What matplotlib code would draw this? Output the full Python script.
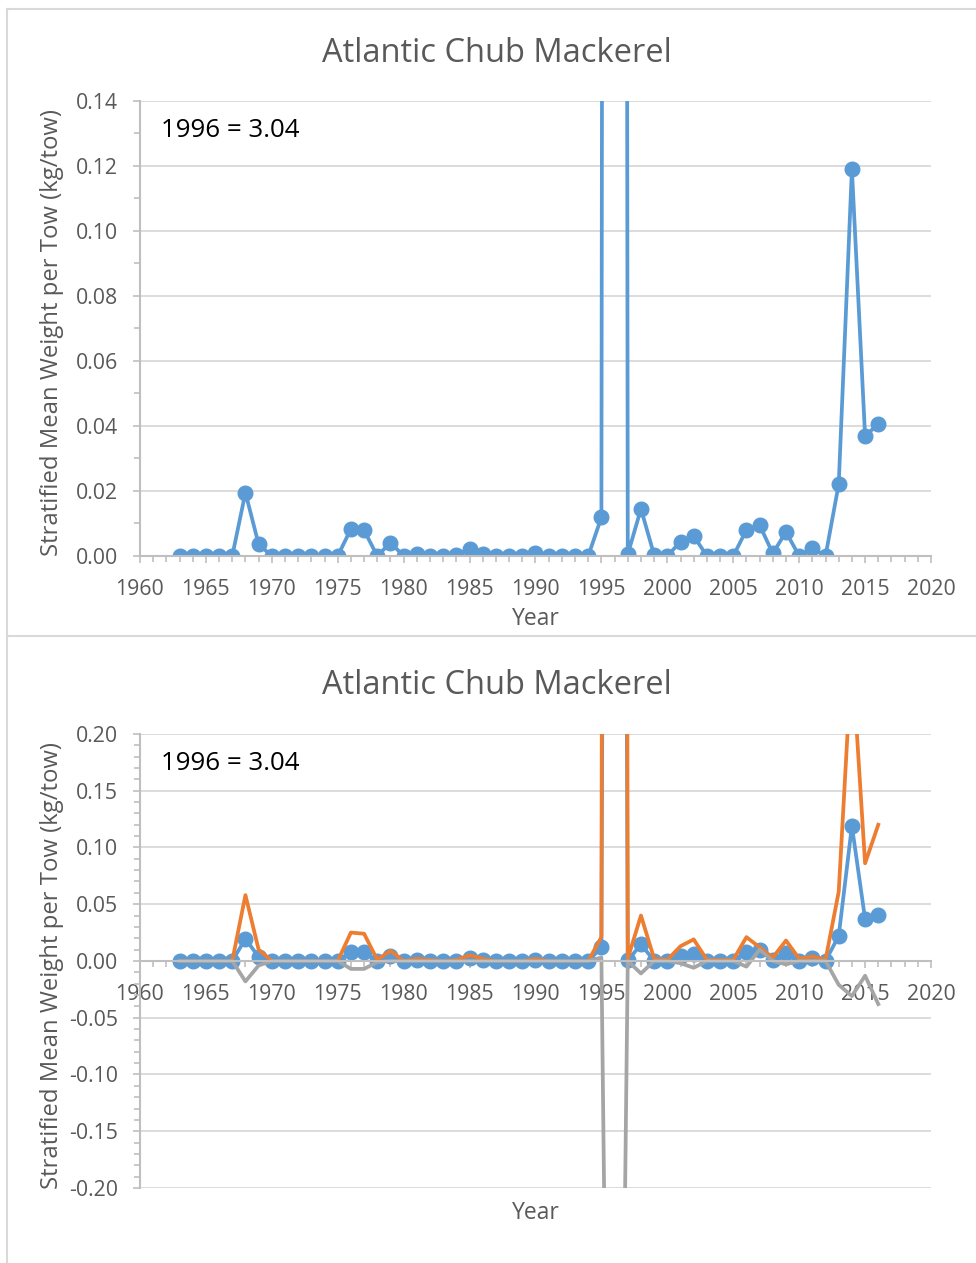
import numpy as np
import matplotlib
matplotlib.use('Agg')
import matplotlib.pyplot as plt
from matplotlib.ticker import MultipleLocator, FormatStrFormatter
from matplotlib.lines import Line2D

plt.rcParams['font.family'] = ['Open Sans', 'DejaVu Sans']

# 1. data (stratified mean weight per tow, kg/tow)
years = list(range(1963, 2017))

mean_wt = [0, 0, 0, 0, 0, 0.0195, 0.0036, 0, 0, 0,
           0, 0, 0, 0.0083, 0.0079, 0, 0.0041, 0, 0.0005, 0,
           0, 0.0003, 0.0022, 0.0005, 0, 0, 0, 0.0008, 0, 0,
           0, 0, 0.0119, 3.04, 0.0005, 0.0145, 0.0003, 0, 0.0044, 0.0062,
           0, 0, 0, 0.0080, 0.0095, 0.0008, 0.0074, 0, 0.0024, 0,
           0.0221, 0.119, 0.0369, 0.0406]

upper_ci = [0, 0, 0, 0, 0, 0.058, 0.010, 0, 0, 0,
            0, 0, 0, 0.025, 0.024, 0.001, 0.009, 0, 0.002, 0.001,
            0, 0.001, 0.005, 0.002, 0, 0, 0, 0.002, 0, 0,
            0, 0, 0.021, 6.5, 0.002, 0.040, 0.002, 0.001, 0.013, 0.019,
            0.001, 0.001, 0.001, 0.021, 0.012, 0.003, 0.018, 0.002, 0.004, 0.001,
            0.061, 0.27, 0.086, 0.120]

lower_ci = [0, 0, 0, 0, 0, -0.018, -0.004, 0, 0, 0,
            0, 0, 0, -0.007, -0.007, -0.001, 0, 0, 0, 0,
            0, 0, 0, 0, 0, 0, 0, 0, 0, 0,
            0, 0, 0.003, -1.0, 0, -0.011, 0, 0, -0.002, -0.006,
            0, 0, 0, -0.005, 0.010, 0, -0.003, 0, 0, 0,
            -0.021, -0.031, -0.013, -0.038]

title = 'Atlantic Chub Mackerel'
ylab = 'Stratified Mean Weight per Tow (kg/tow)'
note = '1996 = 3.04'

blue = '#5B9BD5'
orange = '#ED7D31'
grey = '#A5A5A5'
axis_col = '#BFBFBF'
grid_col = '#D9D9D9'
txt_col = '#595959'

H = 1263.0
W = 976.0


def format_axis(ax, ymin, ymax, ymaj, ymin_step):
    ax.set_xlim(1960, 2020)
    ax.set_ylim(ymin, ymax)
    for s in ['top', 'right']:
        ax.spines[s].set_visible(False)
    ax.spines['bottom'].set_position(('data', 0))
    ax.spines['bottom'].set_color(axis_col)
    ax.spines['left'].set_color(axis_col)
    ax.spines['bottom'].set_linewidth(1.5)
    ax.spines['left'].set_linewidth(1.5)
    ax.xaxis.set_major_locator(MultipleLocator(5))
    ax.xaxis.set_minor_locator(MultipleLocator(1))
    ax.yaxis.set_major_locator(MultipleLocator(ymaj))
    ax.yaxis.set_minor_locator(MultipleLocator(ymin_step))
    ax.yaxis.set_major_formatter(FormatStrFormatter('%.2f'))
    ax.tick_params(which='both', direction='out', color=axis_col, width=1.2)
    ax.tick_params(which='major', length=5)
    ax.tick_params(which='minor', length=4)
    ax.tick_params(axis='x', which='major', labelsize=15.3, labelcolor=txt_col, pad=11.5)
    ax.tick_params(axis='y', which='major', labelsize=15.3, labelcolor=txt_col, pad=11)
    ax.grid(axis='y', color=grid_col, linewidth=1.3)
    ax.set_axisbelow(True)
    ax.text(-0.111, 0.49, ylab, transform=ax.transAxes, rotation=90,
            ha='center', va='center', fontsize=17.2, color=txt_col)
    ax.text(0.026, 0.935, note, transform=ax.transAxes, ha='left', va='center',
            fontsize=18.6, color='black')


fig = plt.figure(figsize=(9.76, 12.63), dpi=100)

# 2. top chart - mean only
ax1 = fig.add_axes([0.1434, 0.5598, 0.8105, 0.3603])
ax1.plot(years, mean_wt, color=blue, lw=2.7, marker='o', markersize=10.5)
format_axis(ax1, 0, 0.14, 0.02, 0.01)
ax1.text(0.5, -0.138, 'Year', transform=ax1.transAxes, ha='center', va='center',
         fontsize=16.5, color=txt_col)
fig.text(497 / W, 1 - 53 / H, title, ha='center', va='center', fontsize=23.5, color=txt_col)

# 3. bottom chart - mean with confidence bounds
ax2 = fig.add_axes([0.1434, 0.0594, 0.8105, 0.3595])
ax2.plot(years, mean_wt, color=blue, lw=2.7, marker='o', markersize=10.5)
ax2.plot(years, upper_ci, color=orange, lw=2.7)
ax2.plot(years, lower_ci, color=grey, lw=2.7)
format_axis(ax2, -0.20, 0.20, 0.05, 0.01)
ax2.text(0.5, -0.055, 'Year', transform=ax2.transAxes, ha='center', va='center',
         fontsize=16.5, color=txt_col)
fig.text(497 / W, 1 - 685 / H, title, ha='center', va='center', fontsize=23.5, color=txt_col)

# 4. chart area borders
for xs, ys in [([7, 7], [9, 636]), ([7, 976], [9, 9]), ([7, 976], [636, 636]),
               ([7, 7], [636, 1263])]:
    fig.add_artist(Line2D([x / W for x in xs], [1 - y / H for y in ys],
                          color=grid_col, lw=1.5))

fig.savefig('out.png', dpi=100)
